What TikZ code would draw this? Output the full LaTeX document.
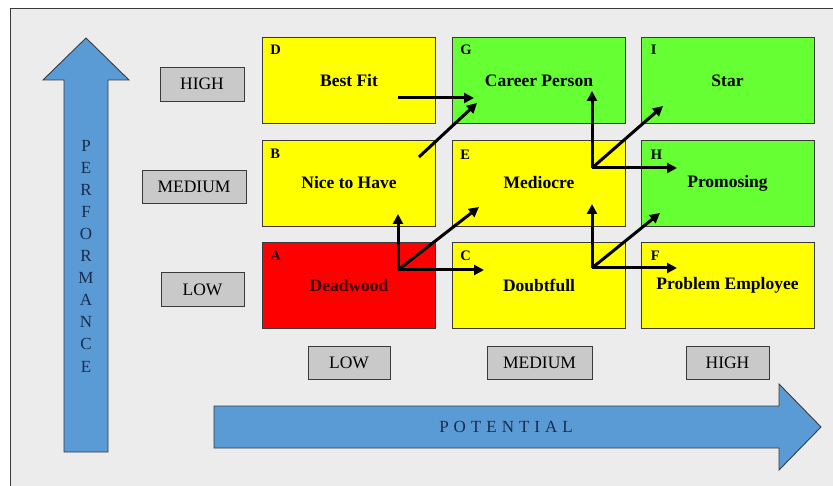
\documentclass[tikz,border=0pt]{standalone}
\usepackage{fontspec}
\setmainfont{Liberation Serif}
\usetikzlibrary{arrows.meta}
\definecolor{bgc}{HTML}{ECECEC}
\definecolor{yel}{HTML}{FFFF00}
\definecolor{grn}{HTML}{66FF33}
\definecolor{rd}{HTML}{FF0000}
\definecolor{lblgray}{HTML}{C9C9C9}
\definecolor{axblue}{HTML}{5B9BD5}
\definecolor{axtext}{HTML}{1A2B4C}
\definecolor{edge}{HTML}{3A3A3A}
\definecolor{deadtxt}{HTML}{3C0000}
\tikzset{
  cell/.style={draw=edge, line width=0.9pt, minimum width=173pt, minimum height=86pt, inner sep=0pt,
    font=\fontsize{17.5}{20}\selectfont\bfseries},
  letter/.style={anchor=west, inner sep=0pt, font=\fontsize{14.5}{16}\selectfont\bfseries},
  lvl/.style={draw=edge, line width=0.9pt, fill=lblgray, minimum height=34pt, inner sep=0pt,
    font=\fontsize{17.5}{20}\selectfont},
  axis/.style={fill=axblue, draw=edge, line width=0.9pt},
  move/.style={line width=3pt, -{Triangle[length=10pt,width=10pt]}},
}
\begin{document}
\begin{tikzpicture}[x=1pt,y=-1pt]
\useasboundingbox (0,0) rectangle (833,486);
\fill[white] (0,0) rectangle (833,486);
\fill[bgc] (10,9) rectangle (833,486);
\draw[edge, line width=1pt] (10,486) -- (10,9) -- (833,9);

% axes
\draw[axis] (64,452) -- (64,80) -- (43,80) -- (86,38) -- (129,80) -- (108,80) -- (108,452) -- cycle;
\node[text=axtext, align=center, inner sep=0pt, font=\fontsize{17}{22.1}\selectfont] (perf) at (86,256)
  {P\\E\\R\\F\\O\\R\\M\\A\\N\\C\\E};
\draw[axis] (214,406) -- (779,406) -- (779,384) -- (821,427) -- (779,470) -- (779,448) -- (214,448) -- cycle;
\node[text=axtext, inner sep=0pt, font=\fontsize{17}{18}\selectfont] (pot) at (506,427)
  {P\kern5pt O\kern5pt T\kern5pt E\kern5pt N\kern5pt T\kern5pt I\kern5pt A\kern5pt L};

% cells
\node[cell, fill=yel] (D) at (349,80.5) {Best Fit};
\node[cell, fill=grn] (G) at (539,80.5) {Career Person};
\node[cell, fill=grn] (I) at (727.5,80.5) {Star};
\node[cell, fill=yel] (B) at (349,183) {Nice to Have};
\node[cell, fill=yel] (E) at (539,183) {Mediocre};
\node[cell, fill=grn] (H) at (727.5,183) {Promosing};
\node[cell, fill=rd, text=deadtxt] (A) at (349,285.5) {Deadwood};
\node[cell, fill=yel] (C) at (539,285.5) {Doubtfull};
\node[cell, fill=yel] (F) at (727.5,285.5) {Problem Employee};

\node[letter] (lD) at ([xshift=8pt,yshift=-12.5pt]D.north west) {D};
\node[letter] (lG) at ([xshift=8pt,yshift=-12.5pt]G.north west) {G};
\node[letter] (lI) at ([xshift=10pt,yshift=-13pt]I.north west) {I};
\node[letter] (lB) at ([xshift=8pt,yshift=-14pt]B.north west) {B};
\node[letter] (lE) at ([xshift=8pt,yshift=-15pt]E.north west) {E};
\node[letter] (lH) at ([xshift=10pt,yshift=-15pt]H.north west) {H};
\node[letter, text=deadtxt] (lA) at ([xshift=8pt,yshift=-14pt]A.north west) {A};
\node[letter] (lC) at ([xshift=8pt,yshift=-14pt]C.north west) {C};
\node[letter] (lF) at ([xshift=10pt,yshift=-14pt]F.north west) {F};

% level labels
\node[lvl, minimum width=84pt] (pH) at (202,84) {HIGH};
\node[lvl, minimum width=104pt, minimum height=33pt] (pM) at (194,186.5) {MEDIUM};
\node[lvl, minimum width=83pt] (pL) at (202.5,289.5) {LOW};
\node[lvl, minimum width=82pt, minimum height=33pt] (qL) at (349,362.5) {LOW};
\node[lvl, minimum width=105pt, minimum height=33pt] (qM) at (539.5,362.5) {MEDIUM};
\node[lvl, minimum width=83pt, minimum height=33pt] (qH) at (727.5,362.5) {HIGH};

% movement arrows
\coordinate (dS) at (398,98);   \coordinate (dT) at (474,98);
\coordinate (bS) at (419,157);  \coordinate (bT) at (477,103);
\coordinate (aS) at (398,270);  \coordinate (aU) at (398,214); \coordinate (aR) at (484,270); \coordinate (aD) at (479,207);
\coordinate (cS) at (592,268);  \coordinate (cU) at (592,204); \coordinate (cR) at (677,268); \coordinate (cD) at (660,213);
\coordinate (eS) at (592,168);  \coordinate (eU) at (592,91);  \coordinate (eR) at (677,168); \coordinate (eD) at (663,106);

\draw[move] (dS) -- (dT);
\draw[move] (bS) -- (bT);
\draw[move] (aS) -- (aU);
\draw[move] (aS) -- (aR);
\draw[move] (aS) -- (aD);
\draw[move] (cS) -- (cU);
\draw[move] (cS) -- (cR);
\draw[move] (cS) -- (cD);
\draw[move] (eS) -- (eU);
\draw[move] (eS) -- (eR);
\draw[move] (eS) -- (eD);
\end{tikzpicture}
\end{document}
